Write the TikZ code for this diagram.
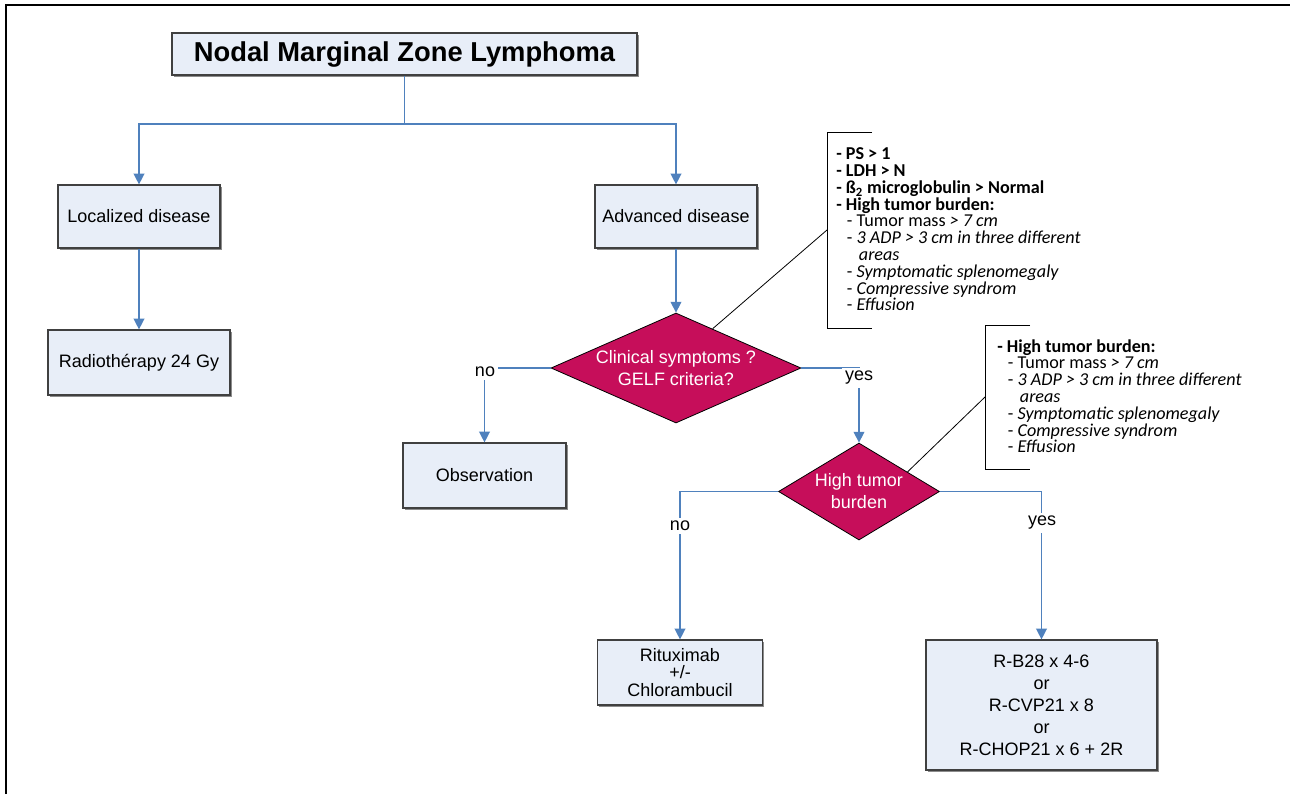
\documentclass[tikz,border=0pt]{standalone}
\usepackage{fontspec}
\setmainfont{Liberation Sans}
\newfontfamily\notefont{Carlito}
\usetikzlibrary{positioning,shapes.geometric,arrows.meta,shadows}

\begin{document}
\begin{tikzpicture}[x=0.75pt,y=0.75pt,yscale=-1,xscale=1,
  box/.style={draw={rgb, 255:red, 64; green, 64; blue, 64}, line width=0.9pt, fill={rgb, 255:red, 232; green, 238; blue, 248}, align=center, font=\fontsize{13.5}{16.5}\selectfont, drop shadow={shadow xshift=1.2pt, shadow yshift=-1.2pt, fill=black!45, opacity=1}},
  choice/.style={diamond, draw=black, line width=0.6pt, fill={rgb, 255:red, 198; green, 14; blue, 90}, text=white, inner sep=0pt, align=center, font=\fontsize{13.5}{16.5}\selectfont},
  conn/.style={draw={rgb, 255:red, 79; green, 129; blue, 189}, line width=1pt},
  arrowed/.style={-{Triangle[length=8pt,width=8pt]}},
  lab/.style={fill=white, inner sep=2.5pt, font=\fontsize{13.5}{16}\selectfont},
  note/.style={anchor=north west, inner sep=0pt, align=left, font=\notefont\fontsize{13.6}{12.6}\selectfont},
  bracket/.style={draw=black, line width=0.6pt}]
\useasboundingbox (0,0) rectangle (1290,794);

%Frame
\draw [line width=1pt] (6,794) -- (6,5) -- (1290,5);

%Boxes
\node [box, minimum width=348.75pt, minimum height=31.5pt, font=\bfseries\fontsize{20.5}{24}\selectfont] (nmzl) at (404.5,54) {Nodal Marginal Zone Lymphoma};
\node [box, minimum width=121.5pt, minimum height=47.25pt] (local) at (139,216.5) {Localized disease};
\node [box, minimum width=136.5pt, minimum height=48.75pt] (radio) at (139,362.5) {Radiothérapy 24 Gy};
\node [box, minimum width=121.5pt, minimum height=47.25pt] (advanced) at (676,216.5) {Advanced disease};
\node [box, minimum width=122.25pt, minimum height=48.75pt] (observ) at (484.5,475.5) {Observation};
\node [box, minimum width=123.75pt, minimum height=48.75pt, font=\fontsize{13.5}{13}\selectfont] (ritux) at (680,672.5) {Rituximab\\+/-\\Chlorambucil};
\node [box, minimum width=173.25pt, minimum height=97.5pt] (regimen) at (1041.5,705) {R-B28 x 4-6\\or\\R-CVP21 x 8\\or\\R-CHOP21 x 6 + 2R};

%Decisions
\node [choice, minimum width=187.5pt, minimum height=82.5pt, aspect=2.27] (clinical) at (676,368) {Clinical symptoms ?\\GELF criteria?};
\node [choice, minimum width=120.75pt, minimum height=72.75pt, aspect=1.66] (burden) at (859,491.5) {High tumor\\burden};

%Connectors
\coordinate (split) at (404.5,124);
\draw [conn] (nmzl) -- (split);
\draw [conn, arrowed] (split) -| (local);
\draw [conn, arrowed] (split) -| (advanced);
\draw [conn, arrowed] (local) -- (radio);
\draw [conn, arrowed] (advanced) -- (clinical);
\draw [conn, arrowed] (clinical.west) -| (observ);
\draw [conn, arrowed] (clinical.east) -| (burden);
\draw [conn, arrowed] (burden.west) -| (ritux);
\draw [conn, arrowed] (burden.east) -| (regimen);

%Labels
\node [lab] (no1) at (485,372) {no};
\node [lab] (yes1) at (859,378) {yes};
\node [lab] (no2) at (680,526) {no};
\node [lab] (yes2) at (1042,523) {yes};

%Brackets
\draw [bracket] (872,132) -- (827,132) -- (827,328) -- (872,328);
\draw [bracket] (1030,325) -- (985,325) -- (985,469) -- (1030,469);
\coordinate (gelfpt) at (827,230);
\coordinate (burdenpt) at (985,397);
\draw [bracket] (gelfpt) -- (clinical.47);
\draw [bracket] (burdenpt) -- (burden.22);

%Notes
\node [note] (gelf) at (836,147.5) {\textbf{- PS > 1}\\ \textbf{- LDH > N}\\ \textbf{- ß\textsubscript{2} microglobulin > Normal}\\ \textbf{- High tumor burden:}\\ \hspace*{8pt}- Tumor mass \textit{> 7 cm}\\ \hspace*{8pt}- \textit{3 ADP > 3 cm in three different}\\ \hspace*{17pt}\textit{areas}\\ \hspace*{8pt}- \textit{Symptomatic splenomegaly}\\ \hspace*{8pt}- \textit{Compressive syndrom}\\ \hspace*{8pt}- \textit{Effusion}};
\node [note] (highnote) at (997,339) {\textbf{- High tumor burden:}\\ \hspace*{8pt}- Tumor mass \textit{> 7 cm}\\ \hspace*{8pt}- \textit{3 ADP > 3 cm in three different}\\ \hspace*{17pt}\textit{areas}\\ \hspace*{8pt}- \textit{Symptomatic splenomegaly}\\ \hspace*{8pt}- \textit{Compressive syndrom}\\ \hspace*{8pt}- \textit{Effusion}};

\end{tikzpicture}
\end{document}
